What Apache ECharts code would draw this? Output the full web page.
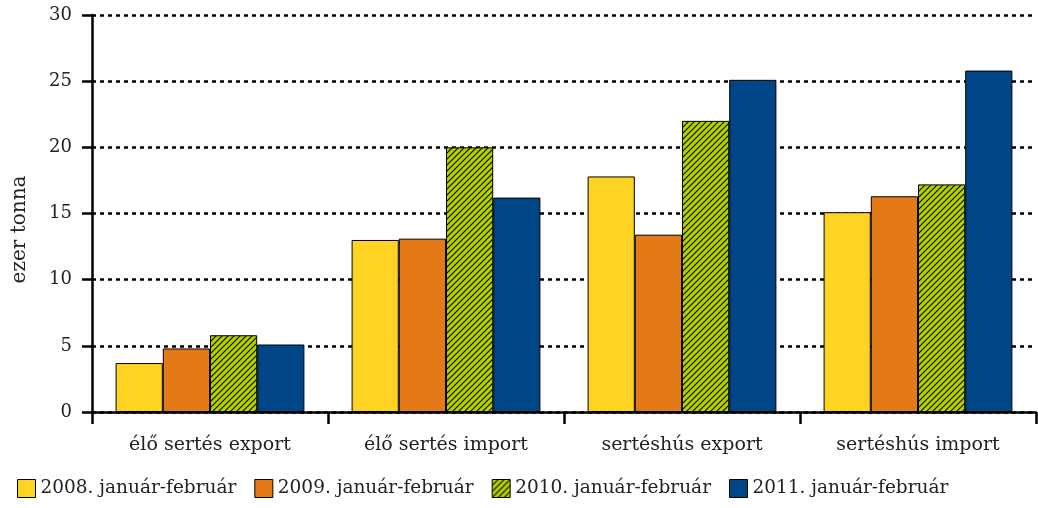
<!DOCTYPE html>
<html><head><meta charset="utf-8">
<script src="https://cdn.jsdelivr.net/npm/echarts@6/dist/echarts.min.js"></script>
<style>html,body{margin:0;padding:0;background:#fff}#c{width:1038px;height:508px}</style>
</head><body><div id="c"></div>
<script>
const categories = ['élő sertés export', 'élő sertés import', 'sertéshús export', 'sertéshús import'];
const seriesNames = ['2008. január-február', '2009. január-február', '2010. január-február', '2011. január-február'];
const v2008 = [3.7, 13.0, 17.8, 15.1];
const v2009 = [4.8, 13.1, 13.4, 16.3];
const v2010 = [5.8, 20.0, 22.0, 17.2];
const v2011 = [5.1, 16.2, 25.1, 25.8];

const cv = document.createElement('canvas');
cv.width = 6; cv.height = 6;
const g = cv.getContext('2d');
g.fillStyle = '#b4d200'; g.fillRect(0, 0, 6, 6);
g.strokeStyle = '#000'; g.lineWidth = 1.1;
g.beginPath(); g.moveTo(-1, 7); g.lineTo(7, -1); g.stroke();
g.beginPath(); g.moveTo(-1, 1); g.lineTo(1, -1); g.stroke();
g.beginPath(); g.moveTo(5, 7); g.lineTo(7, 5); g.stroke();

const colors = ['#ffd324', '#e47a17', {image: cv, repeat: 'repeat'}, '#004586'];
const datas = [v2008, v2009, v2010, v2011];
const font = 'DejaVu Serif';

const chart = echarts.init(document.getElementById('c'));
chart.setOption({
  animation: false,
  textStyle: {fontFamily: font, color: '#222'},
  grid: {left: 92, right: 2, top: 15, bottom: 96, containLabel: false, outerBoundsMode: 'none'},
  legend: {
    bottom: 5, left: 12, itemWidth: 18, itemHeight: 18, itemGap: 18, icon: 'rect',
    itemStyle: {borderColor: '#000', borderWidth: 1},
    textStyle: {fontFamily: font, fontSize: 18.5, color: '#222'},
    data: seriesNames
  },
  xAxis: {
    type: 'category', data: categories,
    axisLine: {lineStyle: {color: '#000', width: 2.5}},
    axisTick: {show: true, length: 12, lineStyle: {color: '#000', width: 2.5}},
    axisLabel: {fontFamily: font, fontSize: 19, color: '#222', margin: 24}
  },
  yAxis: {
    type: 'value', min: 0, max: 30, interval: 5,
    name: 'ezer tonna', nameLocation: 'middle', nameGap: 62,
    nameTextStyle: {fontFamily: font, fontSize: 20, color: '#222', padding: [0, 32, 0, 0]},
    axisLine: {show: true, lineStyle: {color: '#000', width: 2.5}},
    axisTick: {show: true, length: 10, lineStyle: {color: '#000', width: 2.5}},
    axisLabel: {fontFamily: font, fontSize: 18, color: '#222', margin: 20},
    splitLine: {lineStyle: {color: '#000', width: 2.5, type: [4, 4]}}
  },
  series: datas.map((d, i) => ({
    name: seriesNames[i], type: 'bar', data: d,
    barGap: '0%', barCategoryGap: '20%',
    itemStyle: {color: colors[i], borderColor: '#000', borderWidth: 1}
  }))
});
</script></body></html>
